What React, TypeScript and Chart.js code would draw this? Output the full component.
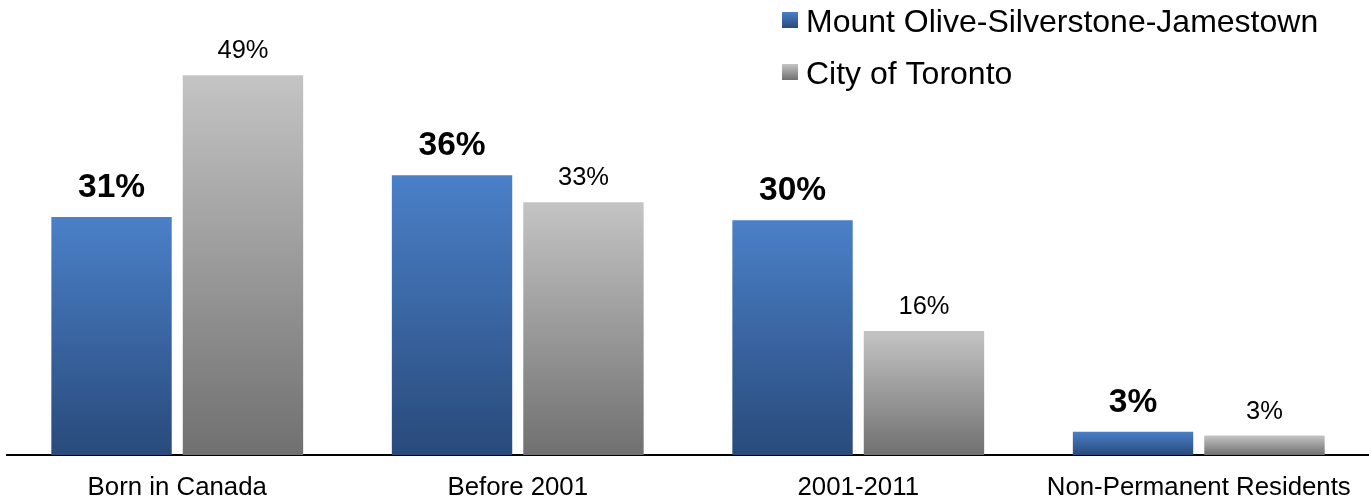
import React, { useEffect, useRef } from "react";
import { Chart, registerables } from "chart.js";

Chart.register(...registerables);

const categories = ["Born in Canada", "Before 2001", "2001-2011", "Non-Permanent Residents"];
const seriesNames = ["Mount Olive-Silverstone-Jamestown", "City of Toronto"];
const localValues = [30.7, 36.1, 30.3, 3.0];
const torontoValues = [49, 32.6, 16, 2.5];

const BLUE_TOP = "#4a80c8";
const BLUE_BOTTOM = "#294a7b";
const GRAY_TOP = "#c4c4c4";
const GRAY_BOTTOM = "#707070";
const FONT = "'Liberation Sans', Arial, sans-serif";

function gradientFill(top: string, bottom: string) {
  return (ctx: any) => {
    const chart = ctx.chart;
    const scales = chart.scales;
    if (!chart.chartArea || !scales || !scales.y || typeof ctx.raw !== "number") return top;
    const y0 = scales.y.getPixelForValue(ctx.raw);
    const y1 = scales.y.getPixelForValue(0);
    const g = chart.ctx.createLinearGradient(0, y0, 0, y1);
    g.addColorStop(0, top);
    g.addColorStop(1, bottom);
    return g;
  };
}

const labelsPlugin = {
  id: "valueLabels",
  afterDatasetsDraw(chart: any) {
    const c = chart.ctx;
    c.save();
    c.textAlign = "center";
    c.textBaseline = "alphabetic";
    c.fillStyle = "#000";
    chart.data.datasets.forEach((ds: any, di: number) => {
      const meta = chart.getDatasetMeta(di);
      meta.data.forEach((bar: any, i: number) => {
        const txt = Math.round(ds.data[i]) + "%";
        if (di === 0) {
          c.font = `bold 33.5px ${FONT}`;
          c.fillText(txt, bar.x, bar.y - 20);
        } else {
          c.font = `25.5px ${FONT}`;
          c.fillText(txt, bar.x, bar.y - 17);
        }
      });
    });
    c.restore();
  },
};

const legendPlugin = {
  id: "customLegend",
  afterDraw(chart: any) {
    const c = chart.ctx;
    c.save();
    const items = [
      { name: seriesNames[0], top: BLUE_TOP, bottom: BLUE_BOTTOM, baseline: 32 },
      { name: seriesNames[1], top: GRAY_TOP, bottom: GRAY_BOTTOM, baseline: 84 },
    ];
    items.forEach((it) => {
      const sy = it.baseline - 20;
      const g = c.createLinearGradient(0, sy, 0, sy + 16);
      g.addColorStop(0, it.top);
      g.addColorStop(1, it.bottom);
      c.fillStyle = g;
      c.fillRect(782, sy, 16, 16);
      c.fillStyle = "#000";
      c.font = `32px ${FONT}`;
      c.textAlign = "left";
      c.textBaseline = "alphabetic";
      c.fillText(it.name, 806, it.baseline);
    });
    c.restore();
  },
};

export default function App() {
  const ref = useRef<HTMLCanvasElement>(null);
  useEffect(() => {
    document.body.style.margin = "0";
    const canvas = ref.current!;
    const chart = new Chart(canvas, {
      type: "bar",
      data: {
        labels: categories,
        datasets: [
          {
            label: seriesNames[0],
            data: localValues,
            backgroundColor: gradientFill(BLUE_TOP, BLUE_BOTTOM),
            borderWidth: 0,
            categoryPercentage: 0.772,
            barPercentage: 0.916,
          },
          {
            label: seriesNames[1],
            data: torontoValues,
            backgroundColor: gradientFill(GRAY_TOP, GRAY_BOTTOM),
            borderWidth: 0,
            categoryPercentage: 0.772,
            barPercentage: 0.916,
          },
        ],
      },
      options: {
        responsive: false,
        animation: false,
        layout: { padding: { left: 7, right: 0, top: 0, bottom: 0 } },
        plugins: {
          legend: { display: false },
          tooltip: { enabled: false },
        },
        scales: {
          x: {
            z: 1,
            grid: { display: false, drawTicks: false },
            border: { display: true, color: "#000", width: 2 },
            ticks: {
              color: "#000",
              font: { family: FONT, size: 25.8 },
              padding: 17,
              maxRotation: 0,
              autoSkip: false,
            },
            afterFit: (scale: any) => {
              scale.height = 49;
            },
          },
          y: {
            display: false,
            min: 0,
            max: 58.7,
          },
        },
      },
      plugins: [labelsPlugin, legendPlugin],
    });
    return () => chart.destroy();
  }, []);
  return (
    <div style={{ width: 1369, height: 504 }}>
      <canvas ref={ref} width={1369} height={504} style={{ display: "block" }} />
    </div>
  );
}
